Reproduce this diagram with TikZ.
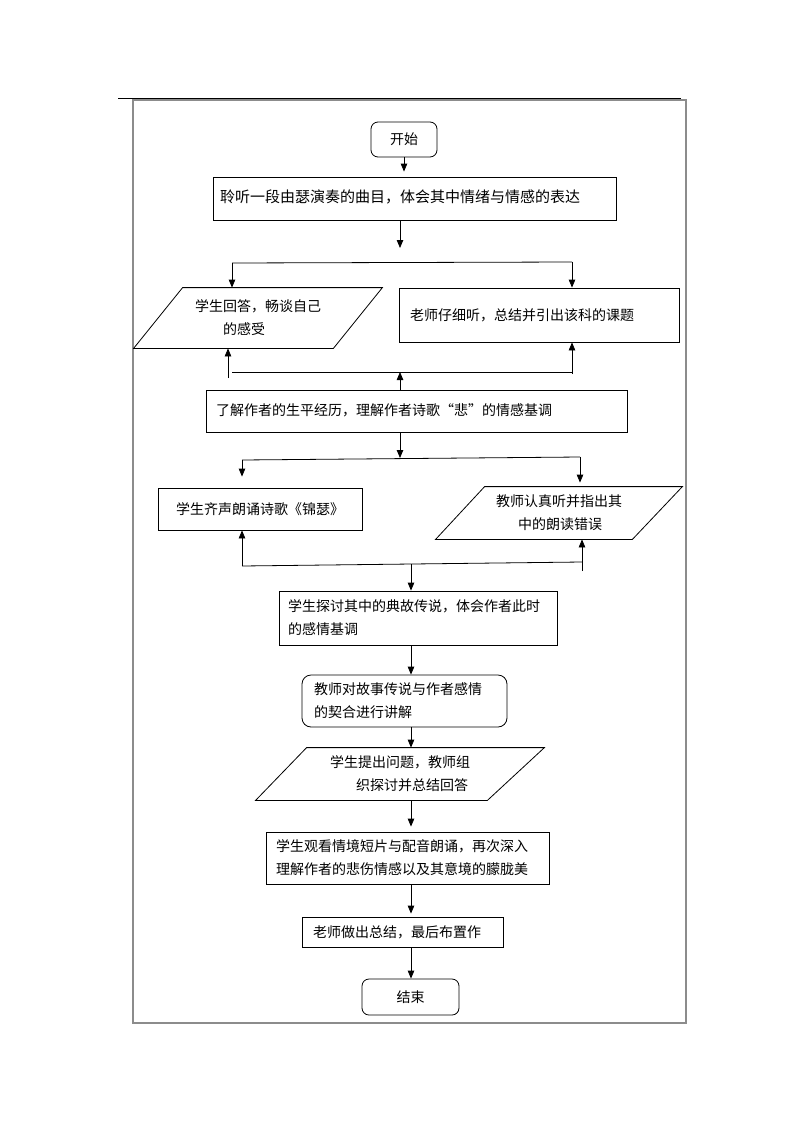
\documentclass[tikz,border=0pt]{standalone}
\usepackage{fontspec}
\setmainfont{Noto Sans CJK SC}
\usetikzlibrary{arrows.meta}
\begin{document}
\begin{tikzpicture}[x=1pt,y=-1pt, line width=0.8pt,
  >={Triangle[length=8pt,width=6.5pt]},
  txt/.style={font=\fontsize{14}{23}\selectfont},
  box/.style={draw, rectangle, txt, align=left, inner ysep=0pt},
  rbox/.style={draw, rounded corners=7pt, txt},
  para/.style={txt, align=left, inner sep=0pt}]
\fill[white] (0,0) rectangle (800,1132);
\useasboundingbox (0,0) rectangle (800,1132);
\draw[black!45, line width=1.2pt] (133,100) rectangle (686,1023);
\draw[line width=1pt] (118,98) -- (681,98);

% nodes
\node[rbox, minimum width=66pt, minimum height=35pt] (start) at (404,139.5) {开始};
\node[box, text width=389pt, inner xsep=7pt, minimum height=43pt, font=\fontsize{15}{23}\selectfont] (b1) at (414.5,198.5) {\raisebox{5pt}{聆听一段由瑟演奏的曲目，体会其中情绪与情感的表达}};
\node[para, minimum width=248pt, minimum height=60pt] (p1) at (258,318) {学生回答，畅谈自己\\\hspace*{28pt}的感受};
\draw ([xshift=49pt]p1.north west) -- (p1.north east) -- ([xshift=-49pt]p1.south east) -- (p1.south west) -- cycle;
\node[box, text width=258pt, inner xsep=11pt, minimum height=54pt] (r1) at (539,315) {老师仔细听，总结并引出该科的课题};
\node[box, text width=401pt, inner xsep=10pt, minimum height=42pt] (b2) at (416.5,411) {\raisebox{3pt}{了解作者的生平经历，理解作者诗歌“悲”的情感基调}};
\node[draw, txt, minimum width=204pt, minimum height=42pt] (r2) at (260,509) {学生齐声朗诵诗歌《锦瑟》};
\node[para, minimum width=246pt, minimum height=52pt] (p2) at (559,513) {教师认真听并指出其\\\hspace*{22pt}中的朗读错误};
\draw ([xshift=49pt]p2.north west) -- (p2.north east) -- ([xshift=-50pt]p2.south east) -- (p2.south west) -- cycle;
\node[box, text width=260pt, inner xsep=9pt, minimum height=54pt] (b3) at (418,618) {学生探讨其中的典故传说，体会作者此时\\的感情基调};
\node[draw, rounded corners=9pt, txt, align=left, text width=181pt, inner xsep=12pt, minimum height=52pt] (b4) at (404.5,701) {教师对故事传说与作者感情\\的契合进行讲解};
\node[para, minimum width=288pt, minimum height=52pt] (p3) at (400,774) {学生提出问题，教师组\\\hspace*{26pt}织探讨并总结回答};
\draw ([xshift=51pt]p3.north west) -- (p3.north east) -- ([xshift=-57pt]p3.south east) -- (p3.south west) -- cycle;
\node[box, text width=263pt, inner xsep=10pt, minimum height=52pt] (b5) at (407.5,858) {学生观看情境短片与配音朗诵，再次深入\\理解作者的悲伤情感以及其意境的朦胧美};
\node[box, text width=179pt, inner xsep=11pt, minimum height=30pt] (b6) at (402.5,932) {老师做出总结，最后布置作};
\node[rbox, minimum width=97pt, minimum height=36pt] (stop) at (410.5,997) {结束};

% connectors
\draw[->, shorten >=5pt] (start.south) -- (start.south |- b1.north);
\coordinate (j1) at (400,248);
\draw[->] (b1.south -| j1) -- (j1);
\coordinate (s1l) at (232,263);
\coordinate (s1r) at (572,262);
\draw (s1l) -- (s1r);
\draw[->] (s1l) -- (s1l |- p1.north);
\draw[->] (s1r) -- (s1r |- r1.north);

\coordinate (m1l) at (228,378);
\draw[->] (m1l) -- (m1l |- p1.south);
\coordinate (m1a) at (232,372);
\coordinate (m1b) at (572,372);
\draw (m1a) -- (m1b);
\coordinate (m1r) at (572,374);
\draw[->] (m1r) -- (m1r |- r1.south);
\coordinate (m1c) at (400,372);
\draw[->] (b2.north -| m1c) -- (m1c);

\coordinate (j2) at (400,458);
\draw[->] (b2.south -| j2) -- (j2);
\coordinate (s2l) at (242,460);
\coordinate (s2r) at (580,457);
\draw (s2l) -- (s2r);
\draw[->, shorten >=11pt] (s2l) -- (s2l |- r2.north);
\draw[->, shorten >=4pt] (s2r) -- (s2r |- p2.north);

\coordinate (m2l) at (242,566);
\coordinate (m2r) at (582,562);
\draw (m2l) -- (m2r);
\draw[->] (m2l) -- (m2l |- r2.south);
\coordinate (m2rr) at (582,571);
\draw[->] (m2rr) -- (m2rr |- p2.south);
\coordinate (m2c) at (411,564);
\draw[->] (m2c) -- (m2c |- b3.north);

\coordinate (ax) at (411,0);
\draw[->] (b3.south -| ax) -- (b4.north -| ax);
\draw[->] (b4.south -| ax) -- (p3.north -| ax);
\draw[->, shorten >=5pt] (p3.south -| ax) -- (b5.north -| ax);
\draw[->, shorten >=3pt] (b5.south -| ax) -- (b6.north -| ax);
\draw[->] (b6.south -| ax) -- (stop.north -| ax);
\end{tikzpicture}
\end{document}
